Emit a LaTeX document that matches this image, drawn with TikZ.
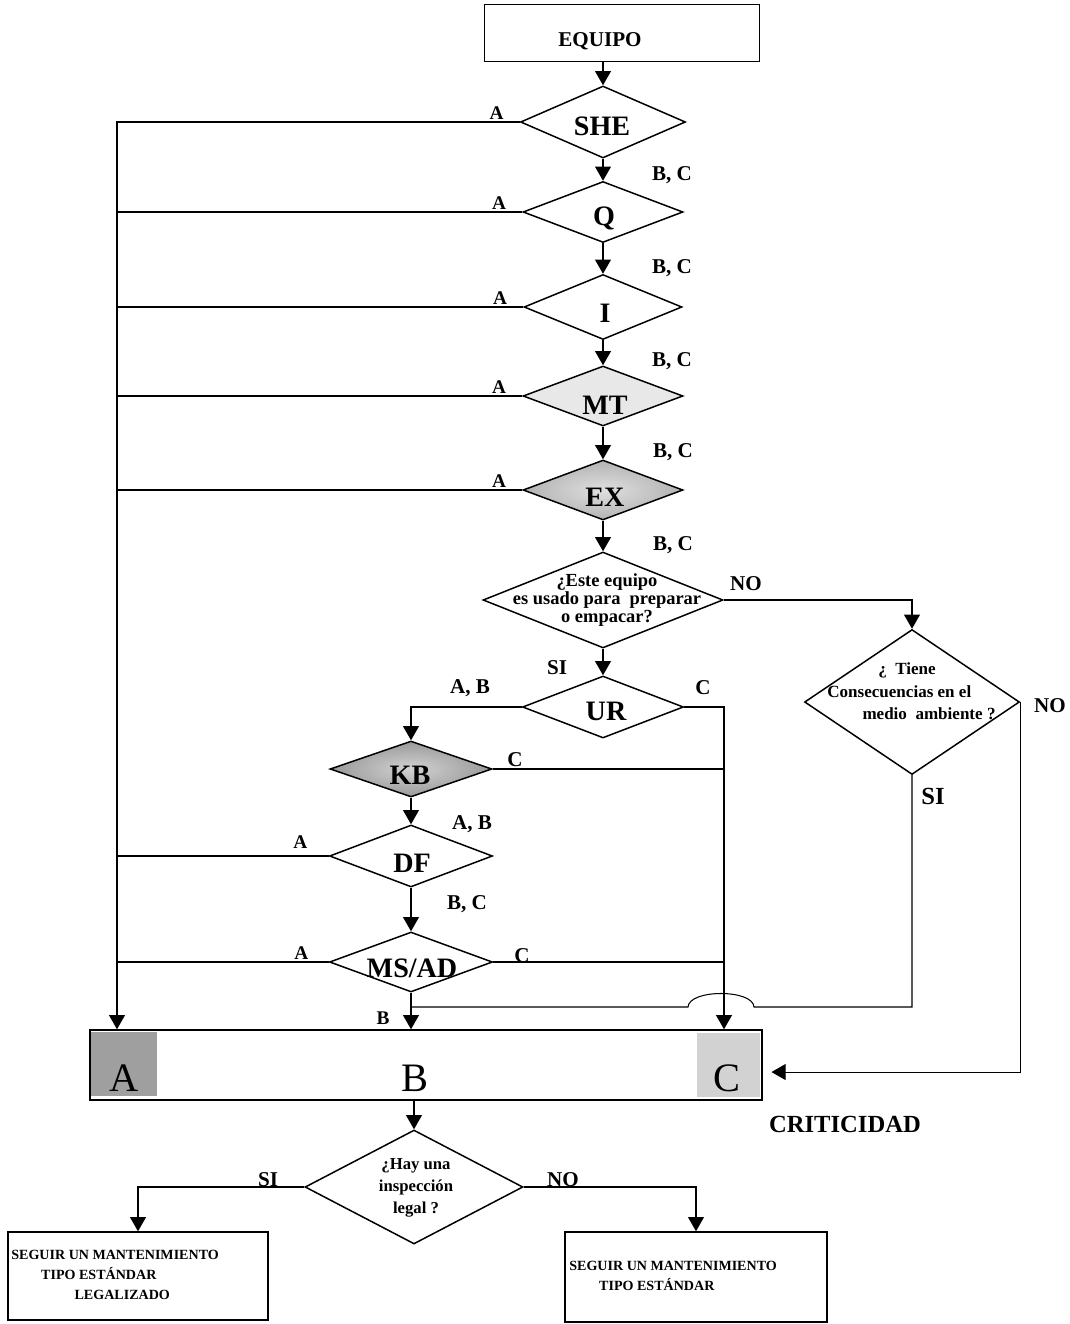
\documentclass[tikz,border=0pt]{standalone}
\usepackage{fontspec}
\setmainfont{Liberation Serif}
\usetikzlibrary{arrows.meta, positioning, shapes.geometric}

\begin{document}
\begin{tikzpicture}[
    x=0.02cm, y=-0.02cm,
    every node/.style={font=\bfseries},
    line/.style={line width=0.6pt},
    arrow/.style={line width=0.6pt, -{Triangle[width=9pt, length=8pt]}},
    dia/.style={draw, diamond, line width=0.85pt, inner sep=0pt, aspect=2.5},
    box/.style={draw, line width=0.85pt, inner sep=0pt},
    dlab/.style={font=\fontsize{16}{18}\selectfont\bfseries, inner sep=0pt},
    qlab/.style={font=\fontsize{10.5}{10}\selectfont\bfseries, align=center, inner sep=0pt},
    elab/.style={font=\fontsize{11}{13}\selectfont\bfseries, inner sep=1pt},
    blab/.style={font=\fontsize{12}{14}\selectfont\bfseries, inner sep=1pt},
    big/.style={font=\fontsize{23}{25}\selectfont, inner sep=0pt},
    boxtxt/.style={font=\fontsize{8}{11.3}\selectfont\bfseries, align=left, inner sep=0pt},
]
\useasboundingbox (0,0) rectangle (1070,1324);

% ===== TOP: EQUIPO and the chain of criteria =====
\node[box, minimum width=5.5cm, minimum height=1.14cm] (equipo) at (622,33) {};
\node[font=\fontsize{12}{14}\selectfont\bfseries] (t-equipo) at (600,41) {EQUIPO};

\node[dia, minimum width=3.3cm, minimum height=1.44cm] (d-she) at (603,122) {};
\node[dlab] (t-she) at (602,126) {SHE};
\node[dia, minimum width=3.2cm, minimum height=1.22cm] (d-q) at (603,212) {};
\node[dlab] (t-q) at (604,218) {Q};
\node[dia, minimum width=3.16cm, minimum height=1.3cm] (d-i) at (603,307) {};
\node[dlab] (t-i) at (605,313) {I};
\node[dia, fill=gray!18, minimum width=3.2cm, minimum height=1.2cm] (d-mt) at (603,396) {};
\node[dlab] (t-mt) at (605,405) {MT};
\node[dia, shading=radial, inner color=gray!25, outer color=gray!60,
      minimum width=3.2cm, minimum height=1.2cm] (d-ex) at (603,490) {};
\node[dlab] (t-ex) at (605,497) {EX};

% A labels on the left side
\node[elab, above left=0.5pt and 8pt of d-she.west] (a-she) {A};
\node[elab, above left=0.5pt and 8pt of d-q.west] (a-q) {A};
\node[elab, above left=0.5pt and 8pt of d-i.west] (a-i) {A};
\node[elab, above left=0.5pt and 8pt of d-mt.west] (a-mt) {A};
\node[elab, above left=0.5pt and 8pt of d-ex.west] (a-ex) {A};

% B, C labels between the diamonds
\node[blab] (bc-she) at (672,175) {B, C};
\node[blab] (bc-q) at (672,268) {B, C};
\node[blab] (bc-i) at (672,361) {B, C};
\node[blab] (bc-mt) at (673,452) {B, C};
\node[blab] (bc-ex) at (673,545) {B, C};

% ===== MIDDLE: preparation question =====
\node[dia, minimum width=4.8cm, minimum height=1.92cm] (d-prep) at (603,600) {};
\node[qlab] (t-prep) at (607,600) {¿Este equipo\\es usado para\ \ preparar\\o empacar?};
\node[blab] (no-prep) at (746,584) {NO};

\node[dia, minimum width=4.3cm, minimum height=2.9cm] (d-amb) at (912,702) {};
\node[boxtxt, font=\fontsize{9.7}{13}\selectfont\bfseries, anchor=north west] (t-amb) at (827,662)
    {\hspace*{29pt}¿\ \ Tiene\\Consecuencias en el\\\hspace*{20pt}medio\ \ ambiente ?};
\node[blab] (no-amb) at (1050,706) {NO};
\node[font=\fontsize{14}{16}\selectfont\bfseries, inner sep=0pt] (si-amb) at (933,796) {SI};

\node[blab] (si-prep) at (557,668) {SI};
\node[dia, minimum width=3.22cm, minimum height=1.24cm] (d-ur) at (603,707) {};
\node[dlab] (t-ur) at (606,711) {UR};
\node[blab] (ab-ur) at (470,688) {A, B};
\node[blab] (c-ur) at (703,688) {C};

\node[dia, shading=radial, inner color=gray!35, outer color=gray!80,
      minimum width=3.24cm, minimum height=1.12cm] (d-kb) at (411,769) {};
\node[dlab] (t-kb) at (410,775) {KB};
\node[blab] (c-kb) at (515,760) {C};
\node[blab] (ab-kb) at (472,824) {A, B};

\node[dia, minimum width=3.26cm, minimum height=1.24cm] (d-df) at (411,856) {};
\node[dlab] (t-df) at (412,863) {DF};
\node[elab, above left=3pt and 11pt of d-df.west] (a-df) {A};
\node[blab] (bc-df) at (467,904) {B, C};

\node[dia, minimum width=3.26cm, minimum height=1.2cm] (d-ms) at (411,962) {};
\node[dlab] (t-ms) at (412,968) {MS/AD};
\node[elab, above left=0.5pt and 10.5pt of d-ms.west] (a-ms) {A};
\node[blab] (c-ms) at (522,956) {C};
\node[elab] (b-ms) at (383,1018) {B};

% ===== CRITICIDAD bar =====
\node[box, minimum width=13.44cm, minimum height=1.4cm] (crit) at (426,1065) {};
\node[fill=gray!75, minimum width=1.32cm, minimum height=1.28cm, inner sep=0pt] (sq-a) at (124,1064) {};
\node[fill=gray!35, minimum width=1.26cm, minimum height=1.28cm, inner sep=0pt] (sq-c) at (728,1065) {};
\node[big] (t-a) at (124,1078) {A};
\node[big] (t-b) at (415,1078) {B};
\node[big] (t-c) at (727,1078) {C};
\node[font=\fontsize{14}{16}\selectfont\bfseries] (t-crit) at (845,1124) {CRITICIDAD};

% ===== BOTTOM: legal inspection =====
\node[dia, minimum width=4.36cm, minimum height=2.28cm] (d-legal) at (414,1187) {};
\node[qlab, font=\fontsize{9.5}{12.5}\selectfont\bfseries] (t-legal) at (416,1188) {¿Hay una\\inspección\\legal ?};
\node[blab] (si-legal) at (268,1180) {SI};
\node[blab] (no-legal) at (563,1180) {NO};

\node[box, minimum width=5.2cm, minimum height=1.76cm] (box-si) at (138,1276) {};
\node[boxtxt, anchor=north west] (t-box-si) at (11,1250)
    {SEGUIR UN MANTENIMIENTO\\\hspace*{17pt}TIPO ESTÁNDAR\\\hspace*{36pt}LEGALIZADO};
\node[box, minimum width=5.24cm, minimum height=1.8cm] (box-no) at (696,1277) {};
\node[boxtxt, anchor=north west] (t-box-no) at (569,1261)
    {SEGUIR UN MANTENIMIENTO\\\hspace*{17pt}TIPO ESTÁNDAR};

% ===== CONNECTORS =====
\coordinate (a-bus) at (117,122);
\coordinate (c-bus) at (724,707);
\coordinate (br-r) at (754,1007);
\coordinate (br-l) at (688,1007);

\draw[arrow] (d-she.north |- equipo.south) -- (d-she.north);
\draw[arrow] (d-she.south) -- (d-q.north);
\draw[arrow] (d-q.south) -- (d-i.north);
\draw[arrow] (d-i.south) -- (d-mt.north);
\draw[arrow] (d-mt.south) -- (d-ex.north);
\draw[arrow] (d-ex.south) -- (d-prep.north);
\draw[arrow] (d-prep.south) -- (d-ur.north);
\draw[arrow] (d-ur.west) -| (d-kb.north);
\draw[arrow] (d-kb.south) -- (d-df.north);
\draw[arrow] (d-df.south) -- (d-ms.north);
\draw[arrow] (d-ms.south) -- (d-ms.south |- crit.north);

% A line on the left
\draw[arrow] (d-she.west) -- (a-bus) -- (a-bus |- crit.north);
\draw[line] (d-q.west) -- (d-q.west -| a-bus);
\draw[line] (d-i.west) -- (d-i.west -| a-bus);
\draw[line] (d-mt.west) -- (d-mt.west -| a-bus);
\draw[line] (d-ex.west) -- (d-ex.west -| a-bus);
\draw[line] (d-df.west) -- (d-df.west -| a-bus);
\draw[line] (d-ms.west) -- (d-ms.west -| a-bus);

% C line on the right
\draw[arrow] (d-ur.east) -- (c-bus) -- (c-bus |- crit.north);
\draw[line] (d-kb.east) -- (d-kb.east -| c-bus);
\draw[line] (d-ms.east) -- (d-ms.east -| c-bus);

% environment branch
\draw[arrow] (d-prep.east) -| (d-amb.north);
\draw[arrow] (d-amb.east) |- ([xshift=5pt, yshift=-4pt]crit.east);
\draw[line] (d-amb.south) |- (br-r) .. controls +(-1,-18) and +(1,-18) .. (br-l)
    -- (br-l -| d-ms.south);

% legal inspection
\draw[arrow] (d-legal.north |- crit.south) -- (d-legal.north);
\draw[arrow] (d-legal.west) -| (box-si.north);
\draw[arrow] (d-legal.east) -| (box-no.north);

\end{tikzpicture}
\end{document}
